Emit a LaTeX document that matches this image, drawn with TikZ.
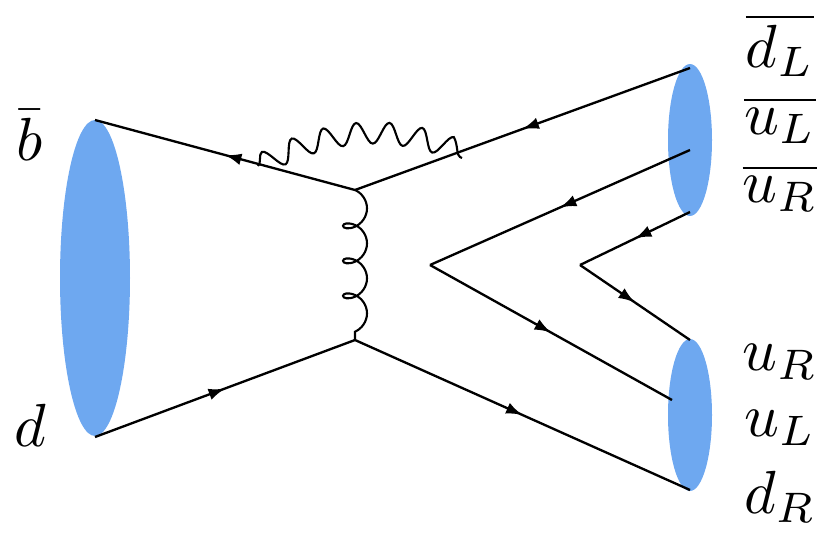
\documentclass[tikz,border=0pt]{standalone}
\usepackage{graphicx}
\usetikzlibrary{decorations.markings,decorations.pathmorphing,arrows.meta}
\newcommand{\lblmath}[1]{\scalebox{5.2}{$#1$}}
\begin{document}
\begin{tikzpicture}[x=0.03cm,y=-0.03cm,
  fermion/.style={line width=2pt,postaction={decorate},decoration={markings,mark=at position 0.5 with {\arrow{Latex[length=14pt,width=10pt]}}}},
  blob/.style={fill={rgb,255:red,110;green,168;blue,240},draw=none},
  lbl/.style={inner sep=0pt}]
\useasboundingbox (0,0) rectangle (831,551);
\fill[blob] (95,278) ellipse [x radius=35*0.03cm, y radius=158*0.03cm];
\fill[blob] (690,140) ellipse [x radius=22*0.03cm, y radius=76*0.03cm];
\fill[blob] (690,415) ellipse [x radius=22*0.03cm, y radius=76*0.03cm];
\coordinate (L1) at (95,120); \coordinate (L2) at (95,437);
\coordinate (V1) at (355,190); \coordinate (V2) at (355,340);
\coordinate (R1) at (690,68); \coordinate (R2) at (690,150);
\coordinate (R3) at (690,212); \coordinate (R4) at (690,340);
\coordinate (R5) at (672,400); \coordinate (R6) at (690,490);
\coordinate (K1) at (430,265); \coordinate (K2) at (580,265);
\coordinate (P1) at (258,166); \coordinate (P2) at (462,158);
\draw[fermion] (V1) -- (L1);
\draw[fermion] (L2) -- (V2);
\draw[fermion] (R1) -- (V1);
\draw[fermion] (V2) -- (R6);
\draw[fermion] (R2) -- (K1);
\draw[fermion] (K1) -- (R5);
\draw[fermion] (R3) -- (K2);
\draw[fermion] (K2) -- (R4);
\draw[line width=1.8pt,decorate,decoration={snake,amplitude=3.2mm,segment length=9.5mm}] (P1) to[bend left=25] (P2);
\draw[line width=1.8pt,decorate,decoration={coil,amplitude=3.6mm,segment length=10.5mm,aspect=0.8}] (V1) -- (V2);
\node[lbl] (b) at (30,135) {\lblmath{\bar b}};
\node[lbl] (d) at (30,425) {\lblmath{d}};
\node[lbl] (dLb) at (780,45) {\lblmath{\overline{d_L}}};
\node[lbl] (uLb) at (780,120) {\lblmath{\overline{u_L}}};
\node[lbl] (uRb) at (780,188) {\lblmath{\overline{u_R}}};
\node[lbl] (uR) at (780,362) {\lblmath{u_R}};
\node[lbl] (uL) at (780,428) {\lblmath{u_L}};
\node[lbl] (dR) at (780,497) {\lblmath{d_R}};
\end{tikzpicture}
\end{document}
